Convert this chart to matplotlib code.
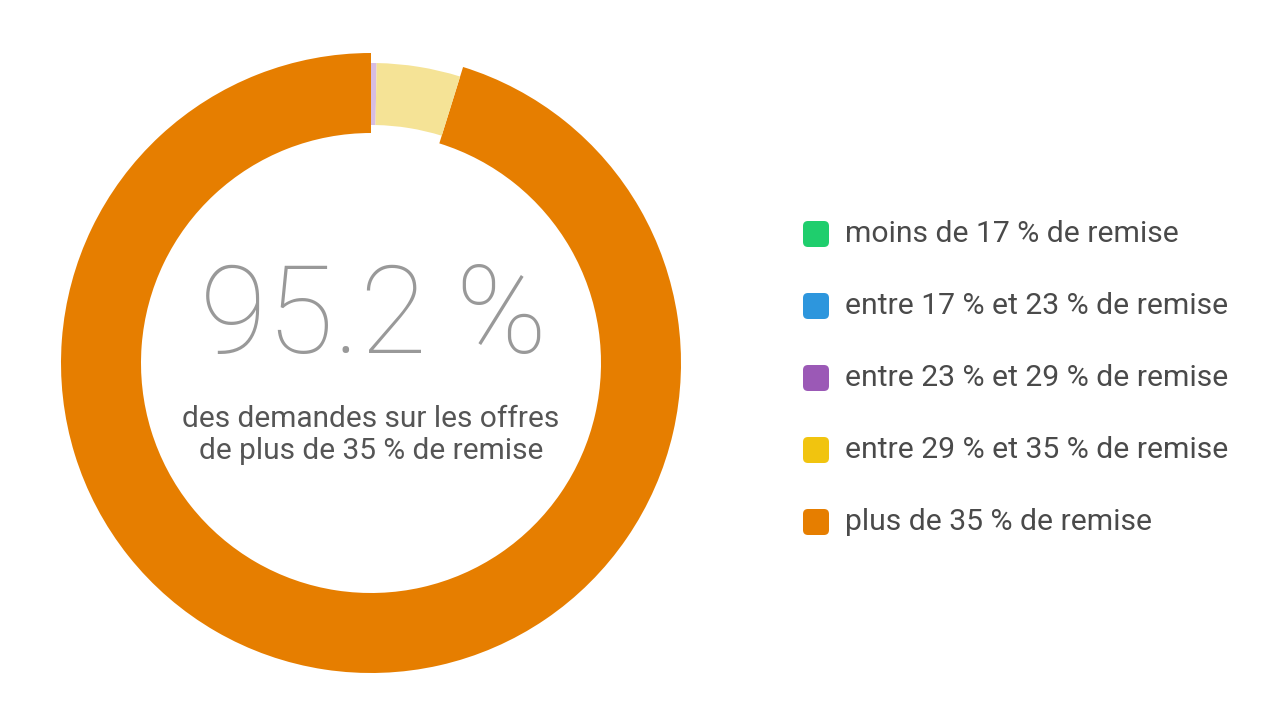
import matplotlib
matplotlib.use("Agg")
import matplotlib.pyplot as plt
from matplotlib.patches import FancyBboxPatch

# Data
labels = ["moins de 17 % de remise",
          "entre 17 % et 23 % de remise",
          "entre 23 % et 29 % de remise",
          "entre 29 % et 35 % de remise",
          "plus de 35 % de remise"]
values = [0.0, 0.0, 0.3, 4.5, 95.2]
colors = ["#1fce6d", "#2d96dd", "#9b59b6", "#f1c40f", "#e67e00"]
faded = ["#a5ebc4", "#abd5f1", "#d7bde2", "#f5e396", "#e67e00"]
highlight = 4

big_text = "95.2 %"
sub_text = "des demandes sur les offres\nde plus de 35 % de remise"

plt.rcParams["font.family"] = ["Roboto", "DejaVu Sans"]

W, H = 1266, 725
fig = plt.figure(figsize=(W / 100, H / 100), dpi=100)
ax = fig.add_axes([0, 0, 1, 1])
ax.set_xlim(0, W)
ax.set_ylim(0, H)
ax.set_aspect("equal")
ax.axis("off")

cx, cy = 371, H - 363

# highlighted slice (bigger ring)
c_hi = [colors[i] if i == highlight else "none" for i in range(len(values))]
ax.pie(values, colors=c_hi, startangle=90, counterclock=False,
       center=(cx, cy), radius=310,
       wedgeprops=dict(width=80, linewidth=0))

# other slices (faded, thinner ring)
c_lo = [faded[i] if i != highlight else "none" for i in range(len(values))]
ax.pie(values, colors=c_lo, startangle=90, counterclock=False,
       center=(cx, cy), radius=300,
       wedgeprops=dict(width=62, linewidth=0))

ax.set_xlim(0, W)
ax.set_ylim(0, H)

# center texts
ax.text(cx + 2, H - 319, big_text, ha="center", va="center", fontsize=88,
        fontweight="light", color="#999999")
ax.text(cx, H - 435, sub_text, ha="center", va="center", fontsize=21.5,
        color="#555555", linespacing=1.2)

# legend
y0 = H - 234
for i, lab in enumerate(labels):
    y = y0 - i * 72
    box = FancyBboxPatch((803, y - 13), 26, 26,
                         boxstyle="round,pad=0,rounding_size=5",
                         facecolor=colors[i], edgecolor="none")
    ax.add_patch(box)
    ax.text(845, y, lab, ha="left", va="center", fontsize=21.7,
            color="#4a4a4a")

fig.savefig("out.png", dpi=100, facecolor="white")
